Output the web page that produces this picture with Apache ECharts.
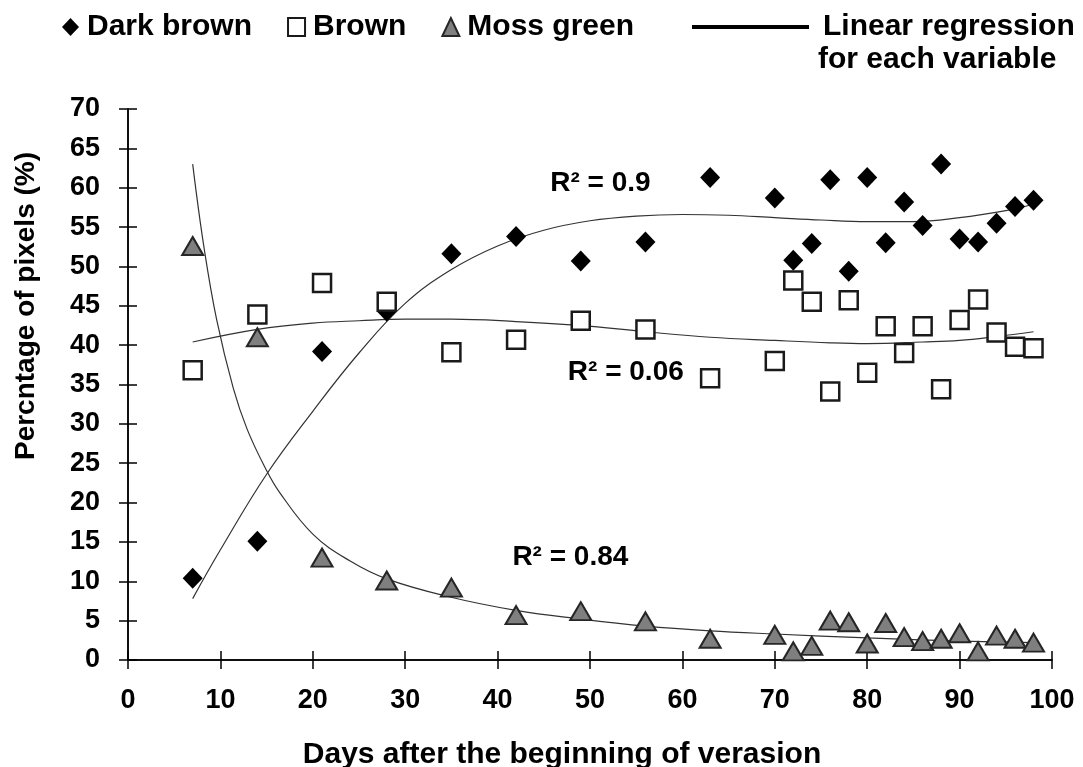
<!DOCTYPE html>
<html>
<head>
<meta charset="utf-8">
<title>Pixel colour vs days after verasion</title>
<script src="https://cdn.jsdelivr.net/npm/echarts/dist/echarts.min.js"></script>
<style>
    html, body { margin: 0; padding: 0; background: #fff; }
    #chart { width: 1083px; height: 767px; }
</style>
</head>
<body>
<div id="chart"></div>
<script>
const days = [7, 14, 21, 28, 35, 42, 49, 56, 63, 70, 72, 74, 76, 78, 80, 82, 84, 86, 88, 90, 92, 94, 96, 98]
const darkBrown = [10.4, 15.1, 39.2, 44.3, 51.6, 53.8, 50.7, 53.1, 61.3, 58.7, 50.8, 52.9, 61.0, 49.4, 61.3, 53.0, 58.2, 55.2, 63.0, 53.5, 53.1, 55.5, 57.6, 58.4]
const brown = [36.8, 43.9, 47.9, 45.5, 39.1, 40.7, 43.1, 42.0, 35.8, 38.0, 48.2, 45.5, 34.1, 45.7, 36.5, 42.4, 39.0, 42.4, 34.4, 43.2, 45.8, 41.6, 39.8, 39.6]
const mossGreen = [52.6, 41.0, 13.0, 10.1, 9.2, 5.7, 6.2, 4.9, 2.7, 3.2, 1.1, 1.8, 5.0, 4.8, 2.1, 4.7, 2.9, 2.4, 2.7, 3.4, 1.1, 3.1, 2.7, 2.2]

// fitted curves
const darkTrendX = [7, 10, 15, 20, 25, 30, 35, 40, 45, 50, 55, 60, 65, 70, 75, 80, 85, 90, 95, 98]
const darkTrendY = [7.8, 14.0, 23.6, 31.6, 39.0, 45.3, 49.6, 52.6, 54.6, 55.8, 56.4, 56.6, 56.5, 56.2, 55.9, 55.7, 55.7, 56.2, 57.1, 57.9]
const brownTrendX = [7, 14, 20, 25, 30, 35, 42, 49, 56, 63, 70, 76, 80, 86, 90, 94, 98]
const brownTrendY = [40.4, 42.0, 42.8, 43.1, 43.3, 43.3, 43.0, 42.5, 41.7, 41.0, 40.6, 40.3, 40.2, 40.4, 40.6, 41.1, 41.7]
const mossTrendX = [7, 8.2, 9.6, 11.4, 12.9, 14.9, 16.4, 20, 24, 28, 34.5, 42, 49, 56, 63, 70, 80, 90, 98]
const mossTrendY = [63.0, 52.6, 43.2, 34.5, 29.3, 24.3, 21.3, 16.0, 12.6, 10.3, 8.1, 6.3, 5.2, 4.3, 3.7, 3.3, 2.8, 2.4, 2.2]

const r2Labels = ['R² = 0.9', 'R² = 0.06', 'R² = 0.84']
const r2X = [45.7, 47.6, 41.6]
const r2Y = [60.6, 36.5, 13.1]

const FONT = '"Liberation Sans", Arial, sans-serif'

const pairs = (xs, ys) => xs.map((x, i) => [x, ys[i]])

const trendSeries = (xs, ys) => ({
    name: 'Linear regression',
    type: 'line',
    data: pairs(xs, ys),
    symbol: 'none',
    smooth: 0.4,
    lineStyle: { color: '#333', width: 1.2 },
    z: 1,
    silent: true
})

const xAxisBase = {
    type: 'value',
    min: 0,
    max: 100,
    interval: 10,
    position: 'bottom',
    splitLine: { show: false },
    axisLine: { lineStyle: { color: '#000', width: 1.5 } }
}

const yAxisBase = {
    type: 'value',
    min: 0,
    max: 70,
    interval: 5,
    position: 'left',
    splitLine: { show: false },
    axisLine: { lineStyle: { color: '#000', width: 1.5 } }
}

const chart = echarts.init(document.getElementById('chart'))

chart.setOption({
    backgroundColor: '#fff',
    animation: false,
    textStyle: { fontFamily: FONT },
    grid: { left: 128, right: 31, top: 109, bottom: 107, containLabel: false, outerBoundsMode: 'none' },
    legend: [
        {
            data: ['Dark brown', 'Brown', 'Moss green'],
            left: 57,
            top: 7,
            itemWidth: 17,
            itemHeight: 18,
            itemGap: 35,
            textStyle: { fontFamily: FONT, fontSize: 30, fontWeight: 'bold', color: '#000', padding: [0, 0, 0, 3] }
        },
        {
            data: ['Linear regression'],
            left: 687,
            top: 7,
            icon: 'rect',
            itemWidth: 117,
            itemHeight: 4,
            itemStyle: { color: '#000', borderWidth: 0 },
            textStyle: { fontFamily: FONT, fontSize: 30, fontWeight: 'bold', color: '#000', padding: [0, 0, 8, 9] }
        }
    ],
    xAxis: [
        Object.assign({}, xAxisBase, {
            name: 'Days after the beginning of verasion',
            nameLocation: 'middle',
            nameGap: 80,
            nameTextStyle: { fontFamily: FONT, fontSize: 30, fontWeight: 'bold', color: '#000', padding: [0, 56, 0, 0] },
            axisTick: { length: 9, lineStyle: { color: '#000', width: 1.5 } },
            axisLabel: { margin: 27, fontFamily: FONT, fontSize: 27, fontWeight: 'bold', color: '#000' }
        }),
        Object.assign({}, xAxisBase, {
            axisTick: { inside: true, length: 9, lineStyle: { color: '#000', width: 1.5 } },
            axisLabel: { show: false }
        })
    ],
    yAxis: [
        Object.assign({}, yAxisBase, {
            axisTick: { length: 9, lineStyle: { color: '#000', width: 1.5 } },
            axisLabel: { margin: 28, fontFamily: FONT, fontSize: 27, fontWeight: 'bold', color: '#000' }
        }),
        Object.assign({}, yAxisBase, {
            axisTick: { inside: true, length: 9, lineStyle: { color: '#000', width: 1.5 } },
            axisLabel: { show: false }
        })
    ],
    series: [
        trendSeries(darkTrendX, darkTrendY),
        trendSeries(brownTrendX, brownTrendY),
        trendSeries(mossTrendX, mossTrendY),
        {
            name: 'Dark brown',
            type: 'scatter',
            data: pairs(days, darkBrown),
            symbol: 'diamond',
            symbolSize: [20, 21],
            itemStyle: { color: '#000', opacity: 1 },
            z: 3
        },
        {
            name: 'Brown',
            type: 'scatter',
            data: pairs(days, brown),
            symbol: 'rect',
            symbolSize: 18,
            itemStyle: { color: '#fff', borderColor: '#1a1a1a', borderWidth: 2.5, opacity: 1 },
            z: 3
        },
        {
            name: 'Moss green',
            type: 'scatter',
            data: pairs(days, mossGreen),
            symbol: 'triangle',
            symbolSize: [21, 18],
            itemStyle: { color: '#7f7f7f', borderColor: '#262626', borderWidth: 2, opacity: 1 },
            z: 3
        },
        {
            name: 'r2',
            type: 'scatter',
            data: r2X.map((x, i) => ({ value: [x, r2Y[i]], name: r2Labels[i] })),
            symbolSize: 0,
            silent: true,
            itemStyle: { opacity: 1 },
            label: {
                show: true,
                position: [0, 0],
                align: 'left',
                verticalAlign: 'middle',
                formatter: (p) => p.name,
                fontFamily: FONT,
                fontSize: 28,
                fontWeight: 'bold',
                color: '#000',
                opacity: 1
            },
            z: 4
        }
    ],
    graphic: [
        {
            type: 'text',
            x: 26,
            y: 306,
            rotation: Math.PI / 2,
            style: {
                text: 'Percntage of pixels (%)',
                font: 'bold 28px ' + FONT,
                fill: '#000',
                align: 'center',
                verticalAlign: 'middle'
            }
        },
        {
            type: 'text',
            x: 818,
            y: 60,
            style: {
                text: 'for each variable',
                font: 'bold 30px ' + FONT,
                fill: '#000',
                align: 'left',
                verticalAlign: 'middle'
            }
        }
    ]
})

window.addEventListener('resize', () => chart.resize())
</script>
</body>
</html>
